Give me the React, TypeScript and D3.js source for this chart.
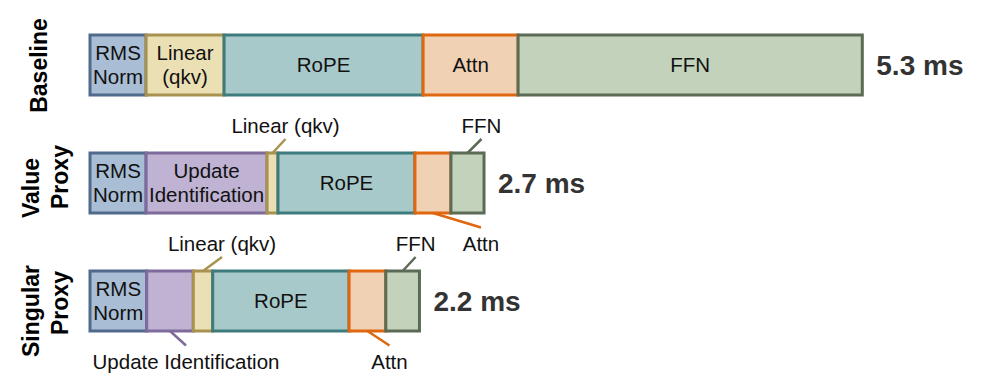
import * as d3 from "d3";

const WIDTH = 997;
const HEIGHT = 382;
const FONT = "'Liberation Sans', Arial, Helvetica, sans-serif";

// rows
const ROW_NAMES = ["Baseline", "Value Proxy", "Singular Proxy"];
const TOTAL_LABELS = ["5.3 ms", "2.7 ms", "2.2 ms"];

// stage timings (ms)
const BASELINE_STAGES = ["RMS Norm", "Linear (qkv)", "RoPE", "Attn", "FFN"];
const BASELINE_MS = [0.385, 0.535, 1.366, 0.652, 2.362];

const PROXY_STAGES = ["RMS Norm", "Update Identification", "Linear (qkv)", "RoPE", "Attn", "FFN"];
const VALUE_PROXY_MS = [0.385, 0.83, 0.075, 0.94, 0.247, 0.227];
const SINGULAR_PROXY_MS = [0.389, 0.32, 0.133, 0.936, 0.252, 0.231];

// labels drawn inside the bars (null = labelled by a callout)
const BASELINE_INNER = [["RMS", "Norm"], ["Linear", "(qkv)"], ["RoPE"], ["Attn"], ["FFN"]];
const VALUE_INNER = [["RMS", "Norm"], ["Update", "Identification"], null, ["RoPE"], null, null];
const SINGULAR_INNER = [["RMS", "Norm"], null, null, ["RoPE"], null, null];

const STAGE_FILL: Record<string, string> = {
  "RMS Norm": "#a9bdd4",
  "Linear (qkv)": "#ebdfb4",
  "Update Identification": "#bfb2d2",
  RoPE: "#a8c9ca",
  Attn: "#f1d1b3",
  FFN: "#c3d3bb",
};
const STAGE_STROKE: Record<string, string> = {
  "RMS Norm": "#4f6a8b",
  "Linear (qkv)": "#a8924f",
  "Update Identification": "#7e6a9b",
  RoPE: "#3e7b7c",
  Attn: "#df670f",
  FFN: "#5b6b55",
};

// callouts: stage index, above/below, horizontal shift of the leader line
const CALLOUTS = [
  [],
  [
    { idx: 2, side: "above", dx: 13 },
    { idx: 4, side: "below", dx: 48 },
    { idx: 5, side: "above", dx: 14 },
  ],
  [
    { idx: 1, side: "below", dx: 16 },
    { idx: 2, side: "above", dx: 19 },
    { idx: 4, side: "below", dx: 22 },
    { idx: 5, side: "above", dx: 13 },
  ],
];

// row title lines, with vertical nudges
const ROW_TITLE_LINES = [["Baseline"], ["Value", "Proxy"], ["Singular", "Proxy"]];
const ROW_TITLE_SHIFT = [[0.5], [5, -6], [10, 2]];

const ROWS = [
  { stages: BASELINE_STAGES, values: BASELINE_MS, inner: BASELINE_INNER },
  { stages: PROXY_STAGES, values: VALUE_PROXY_MS, inner: VALUE_INNER },
  { stages: PROXY_STAGES, values: SINGULAR_PROXY_MS, inner: SINGULAR_INNER },
];

export default function App() {
  const xScale = d3.scaleLinear().domain([0, 5.3]).range([90, 862.3]);
  const yScale = d3
    .scaleBand<string>()
    .domain(ROW_NAMES)
    .range([35, 331])
    .paddingInner(58 / 118)
    .paddingOuter(0);
  const bh = yScale.bandwidth();
  const LINE_H = 24;
  const LABEL_SIZE = 20.5;

  return (
    <svg
      width={WIDTH}
      height={HEIGHT}
      style={{ position: "absolute", left: 0, top: 0, background: "#fff" }}
      fontFamily={FONT}
    >
      {ROWS.map((row, r) => {
        const y0 = yScale(ROW_NAMES[r]) as number;
        const cy = y0 + bh / 2;
        const ends = d3.cumsum(row.values);
        const starts = ends.map((e, i) => e - row.values[i]);
        const total = ends[ends.length - 1];
        return (
          <g key={r}>
            {/* row title */}
            {ROW_TITLE_LINES[r].map((line, li) => {
              const n = ROW_TITLE_LINES[r].length;
              const bx = n === 1 ? 47 : li === 0 ? 38.5 : 68.3;
              const yc = cy + ROW_TITLE_SHIFT[r][li];
              return (
                <text
                  key={li}
                  transform={`translate(${bx},${yc}) rotate(-90)`}
                  textAnchor="middle"
                  fontWeight="bold"
                  fontSize={23}
                  fill="#000"
                >
                  {line}
                </text>
              );
            })}
            {/* segments */}
            {row.stages.map((stage, i) => (
              <rect
                key={stage}
                x={xScale(starts[i])}
                y={y0}
                width={xScale(ends[i]) - xScale(starts[i])}
                height={bh}
                fill={STAGE_FILL[stage]}
                stroke={STAGE_STROKE[stage]}
                strokeWidth={3}
              />
            ))}
            {/* inner labels */}
            {row.stages.map((stage, i) => {
              const lines = row.inner[i];
              if (!lines) return null;
              const mx = (xScale(starts[i]) + xScale(ends[i])) / 2;
              return (
                <text key={`t${i}`} textAnchor="middle" fontSize={LABEL_SIZE} fill="#111">
                  {lines.map((ln, li) => (
                    <tspan key={li} x={mx} y={cy + (li - (lines.length - 1) / 2) * LINE_H + 7}>
                      {ln}
                    </tspan>
                  ))}
                </text>
              );
            })}
            {/* callouts */}
            {CALLOUTS[r].map((c) => {
              const stage = row.stages[c.idx];
              const mx = (xScale(starts[c.idx]) + xScale(ends[c.idx])) / 2;
              const above = c.side === "above";
              const ey = above ? y0 : y0 + bh;
              const ly = above ? ey - 14 : ey + 14.5;
              const tx = mx + c.dx;
              return (
                <g key={`c${c.idx}`}>
                  <line
                    x1={mx}
                    y1={ey}
                    x2={tx}
                    y2={ly}
                    stroke={STAGE_STROKE[stage]}
                    strokeWidth={2.5}
                  />
                  <text
                    x={tx}
                    y={above ? ly - 6 : ly + 23}
                    textAnchor="middle"
                    fontSize={LABEL_SIZE}
                    fill="#111"
                  >
                    {stage}
                  </text>
                </g>
              );
            })}
            {/* total */}
            <text
              x={xScale(total) + 14}
              y={cy + 9.5}
              fontSize={28}
              fontWeight="bold"
              fill="#333"
            >
              {TOTAL_LABELS[r]}
            </text>
          </g>
        );
      })}
    </svg>
  );
}
